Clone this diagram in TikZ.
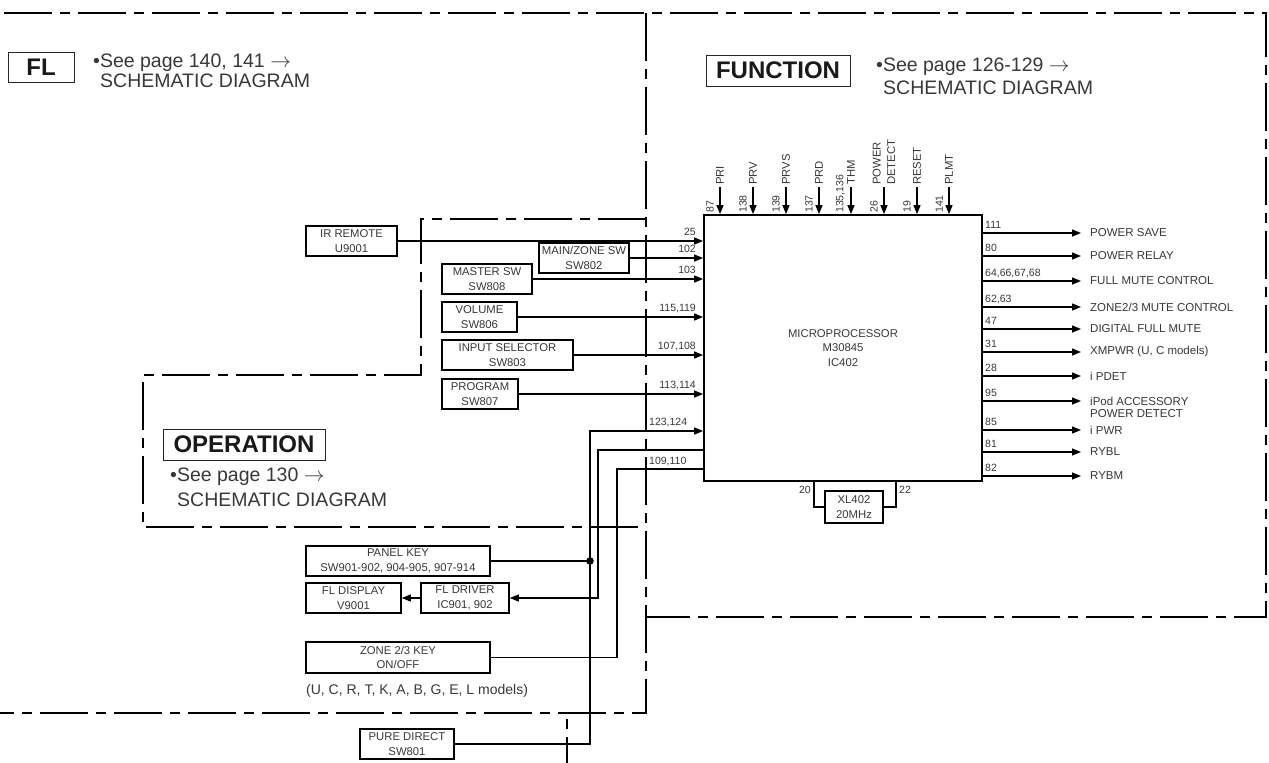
\documentclass[tikz,border=0pt]{standalone}
\usepackage{fontspec}
\setmainfont{Liberation Sans}
\usetikzlibrary{arrows.meta}
\definecolor{txt}{HTML}{383838}
\begin{document}
\begin{tikzpicture}[x=1pt,y=-1pt,
  bord/.style={line width=2.4pt, dash pattern=on 48pt off 8pt on 10pt off 8pt},
  sig/.style={line width=1.4pt},
  arr/.style={-{Triangle[length=9pt,width=7pt]}},
  lbl/.style={font=\fontsize{11.3}{14.5}\selectfont, text=txt, align=center},
  box/.style={lbl, draw, line width=1.6pt, minimum height=30pt, inner sep=0pt},
  pin/.style={font=\fontsize{10.5}{12}\selectfont, text=txt, inner sep=0pt},
  outl/.style={font=\fontsize{11.5}{14}\selectfont, text=txt, inner sep=0pt, anchor=west},
  tbox/.style={draw=black!85, line width=1pt, font=\fontsize{24}{28}\selectfont\bfseries, text=black!90, minimum height=30pt, inner sep=0pt},
  note/.style={font=\fontsize{19.5}{23}\selectfont, text=txt, inner sep=0pt, anchor=base west},
]
\fill[white] (0,0) rectangle (1269,763);
\useasboundingbox (0,0) rectangle (1269,763);

% region borders
\draw[bord] (4,13) -- (1266,13) -- (1266,617) -- (646,617);
\draw[bord] (646,13) -- (646,713) -- (0,713);
\draw[bord] (646,219) -- (421,219) -- (421,375) -- (143,375) -- (143,527) -- (646,527);
\draw[bord, dash phase=50pt] (567,713) -- (567,763);

% titles
\node[tbox, minimum width=66pt] (tfl) at (41,67) {FL};
\node[note] (nfl1) at (93,67) {•See page 140, 141 $\rightarrow$};
\node[note] (nfl2) at (100,87) {SCHEMATIC DIAGRAM};
\node[tbox, minimum width=144pt, minimum height=31pt] (tfn) at (778,70.5) {FUNCTION};
\node[note] (nfn1) at (876,71) {•See page 126-129 $\rightarrow$};
\node[note] (nfn2) at (883,94) {SCHEMATIC DIAGRAM};
\node[tbox, minimum width=162pt, minimum height=31pt] (top) at (244,444.5) {OPERATION};
\node[note] (nop1) at (170,481) {•See page 130 $\rightarrow$};
\node[note] (nop2) at (177,506) {SCHEMATIC DIAGRAM};

% microprocessor
\node[lbl, draw, line width=1.8pt, minimum width=278pt, minimum height=266pt, inner sep=0pt] (mcu) at (843,348) {MICROPROCESSOR\\M30845\\IC402};

% top inputs
\foreach \x/\p/\n [count=\i] in {720/87/PRI, 753/138/PRV, 786/139/PRVS, 819/137/PRD, 851/{135,136}/THM, 884/26/{POWER\\DETECT}, 917/19/RESET, 949/141/PLMT} {
  \coordinate (t\i) at (\x,187);
  \draw[sig,arr] (t\i) -- (t\i |- mcu.north);
  \node[pin, rotate=90, anchor=south west] at (\x-6,213) {\p};
  \node[lbl, inner sep=0pt, rotate=90, anchor=west, align=left] at (\x,185) {\n};
}

% left inputs
\node[box, minimum width=91pt] (ir) at (351.5,241) {IR REMOTE\\U9001};
\node[box, minimum width=90pt] (mz) at (584,258) {MAIN/ZONE SW\\SW802};
\node[box, minimum width=90pt] (ms) at (487,279) {MASTER SW\\SW808};
\node[box, minimum width=75pt] (vol) at (479.5,317) {VOLUME\\SW806};
\node[box, minimum width=131pt] (insel) at (507.5,355) {INPUT SELECTOR\\SW803};
\node[box, minimum width=76pt] (prog) at (480,394) {PROGRAM\\SW807};
\draw[sig,arr] (ir.east) -- (ir.east -| mcu.west);
\draw[sig,arr] (mz.east) -- (mz.east -| mcu.west);
\draw[sig,arr] (ms.east) -- (ms.east -| mcu.west);
\draw[sig,arr] (vol.east) -- (vol.east -| mcu.west);
\draw[sig,arr] (insel.east) -- (insel.east -| mcu.west);
\draw[sig,arr] (prog.east) -- (prog.east -| mcu.west);
\node[pin, anchor=base east] at (696,235.5) {25};
\node[pin, anchor=base east] at (696,252.5) {102};
\node[pin, anchor=base east] at (696,273.5) {103};
\node[pin, anchor=base east] at (696,311.5) {115,119};
\node[pin, anchor=base east] at (696,349.5) {107,108};
\node[pin, anchor=base east] at (696,388.5) {113,114};
\node[pin, anchor=base west] at (649,425) {123,124};
\node[pin, anchor=base west] at (649,464) {109,110};

% operation keys and display
\node[box, minimum width=184pt] (pk) at (398,561) {PANEL KEY\\SW901-902, 904-905, 907-914};
\node[box, minimum width=95pt] (fldisp) at (353.5,598) {FL DISPLAY\\V9001};
\node[box, minimum width=88pt] (fldrv) at (465,598) {FL DRIVER\\IC901, 902};
\node[box, minimum width=184pt, minimum height=31pt] (zk) at (398,657.5) {ZONE 2/3 KEY\\ON/OFF};
\node[box, minimum width=94pt] (pd) at (407,744) {PURE DIRECT\\SW801};
\node[anchor=base west, font=\fontsize{14}{16}\selectfont, text=txt, inner sep=0pt] (models) at (306,694) {(U, C, R, T, K, A, B, G, E, L models)};

\coordinate (j1) at (590,431);
\coordinate (j2) at (598,450);
\coordinate (j3) at (617,469);
\draw[sig,arr] (pd.east) -| (j1) -- (j1 -| mcu.west);
\draw[sig] (pk.east) -- (pk.east -| j1);
\fill (pk.east -| j1) circle (3.8pt);
\draw[sig,arr] (j2 -| mcu.west) -- (j2) |- (fldrv.east);
\draw[sig,arr] (fldrv.west) -- (fldisp.east);
\draw[sig] (j3 -| mcu.west) -- (j3) |- (zk.east);

% outputs
\foreach \y/\p/\n [count=\i] in {233/111/{POWER SAVE}, 256/80/{POWER RELAY}, 281/{64,66,67,68}/{FULL MUTE CONTROL}, 307/{62,63}/{ZONE2/3 MUTE CONTROL}, 329/47/{DIGITAL FULL MUTE}, 352/31/{XMPWR (U, C models)}, 376/28/{i PDET}, 401/95/{iPod ACCESSORY}, 430/85/{i PWR}, 452/81/{RYBL}, 476/82/{RYBM}} {
  \node[outl] (o\i) at (1090,\y) {\n};
  \coordinate (a\i) at (1081,\y);
  \draw[sig,arr] (a\i -| mcu.east) -- (a\i);
  \node[pin, anchor=base west] at (985,\y-4.5) {\p};
}
\node[outl, anchor=north west] (o8b) at ([yshift=-4pt]o8.south west) {POWER DETECT};

% crystal
\node[box, minimum width=58pt, minimum height=32pt] (xl) at (854,507) {XL402\\20MHz};
\coordinate (x20) at (814,0);
\coordinate (x22) at (896,0);
\draw[sig] (mcu.south -| x20) |- (xl.west);
\draw[sig] (mcu.south -| x22) |- (xl.east);
\node[pin, anchor=base east] at (811,493) {20};
\node[pin, anchor=base west] at (899,493) {22};
\end{tikzpicture}
\end{document}
